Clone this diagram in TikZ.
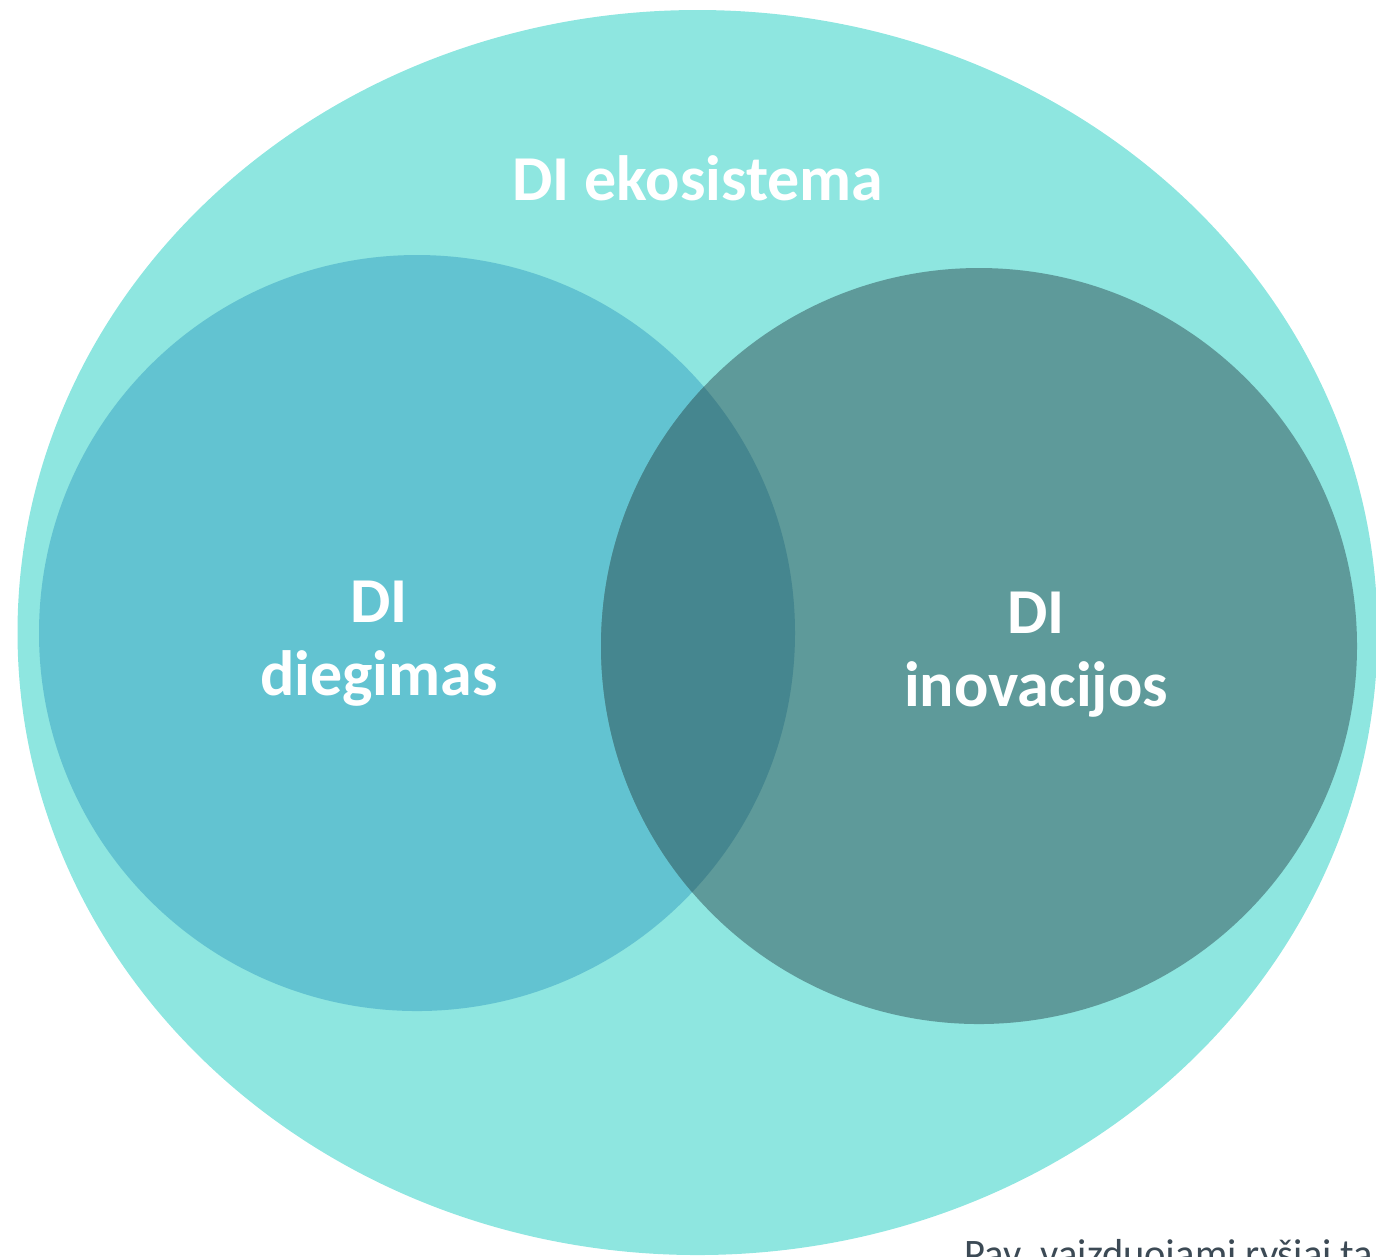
\documentclass[tikz,border=0pt]{standalone}
\usepackage{fontspec}
\setmainfont{Carlito}
\definecolor{ekoFill}{HTML}{8EE6E0}
\definecolor{diegFill}{HTML}{62C3D1}
\definecolor{inovFill}{HTML}{5E9A9A}
\definecolor{bendFill}{HTML}{45868F}
\definecolor{capText}{HTML}{3C4A55}
\tikzset{
  bigtext/.style={text=white,font=\bfseries\fontsize{18.2}{20.8}\selectfont,align=center,inner sep=0pt},
}
\begin{document}
\begin{tikzpicture}[x=0.01cm,y=-0.01cm]
      \clip (0,0) rectangle (1376,1256);
      \fill[ekoFill] (697.5,632.5) ellipse [x radius=680,y radius=622.5];
      \fill[diegFill] (417,633) circle [radius=378];
      \fill[inovFill] (979,646) circle [radius=378];
      \begin{scope}
        \clip (417,633) circle [radius=378];
        \fill[bendFill] (979,646) circle [radius=378];
      \end{scope}

      \node[bigtext,anchor=base](Eko) at(698,200) {DI ekosistema};
      \node[bigtext](Dieg) at(379,644) {DI\\diegimas};
      \node[bigtext](Inov) at(1036,655) {DI\\inovacijos};
      \node[anchor=base west,inner sep=0pt,text=capText,font=\fontsize{11.5}{13}\selectfont](Pav) at(964,1267) {Pav. vaizduojami ryšiai ta};
    \end{tikzpicture}
\end{document}
